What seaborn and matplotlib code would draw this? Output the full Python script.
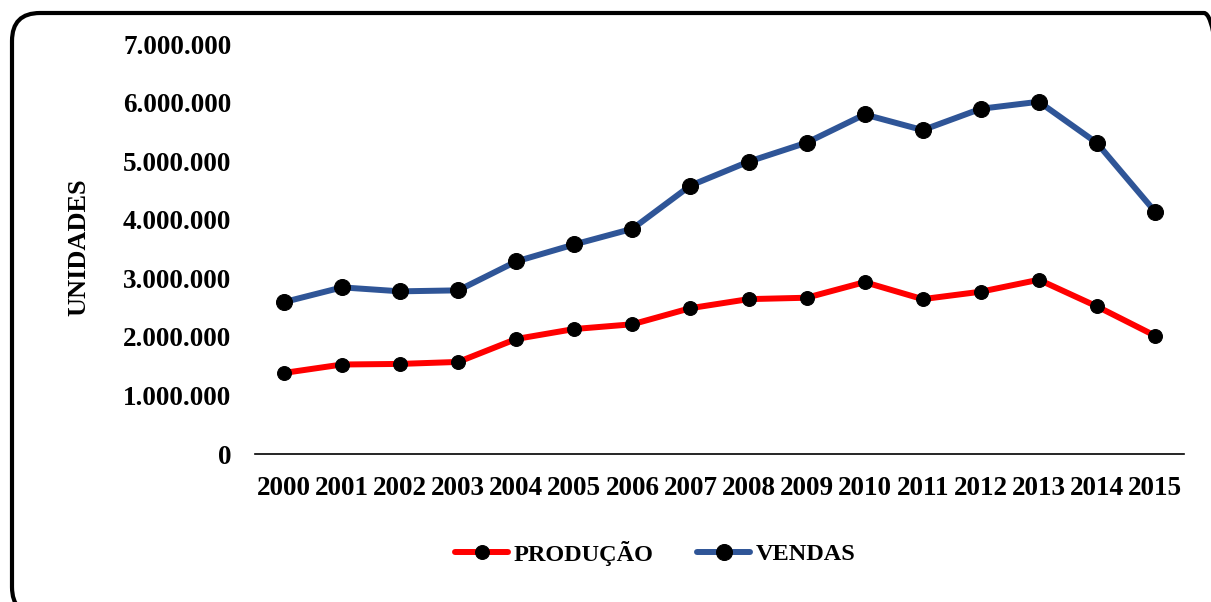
import matplotlib
matplotlib.use("Agg")
import matplotlib.pyplot as plt
import seaborn as sns
import pandas as pd
from matplotlib.patches import FancyBboxPatch
from matplotlib.ticker import FuncFormatter, MultipleLocator

years = list(range(2000, 2016))
producao = [1384000, 1528000, 1538000, 1572000, 1964000, 2134000, 2215000, 2490000,
            2644000, 2668000, 2934000, 2644000, 2771000, 2975000, 2520000, 2020000]
vendas = [2594000, 2845000, 2777000, 2794000, 3288000, 3578000, 3845000, 4583000,
          4991000, 5315000, 5797000, 5530000, 5894000, 6014000, 5310000, 4140000]
series_names = ["PRODUÇÃO", "VENDAS"]
series_colors = ["#FF0000", "#2F5597"]

sns.set_theme(style="white")
plt.rcParams['font.family'] = ['Liberation Serif', 'DejaVu Serif']
plt.rcParams['font.weight'] = 'bold'
plt.rcParams['text.color'] = 'black'
plt.rcParams['axes.labelcolor'] = 'black'
plt.rcParams['xtick.color'] = 'black'
plt.rcParams['ytick.color'] = 'black'

W, H = 1211, 602
fig = plt.figure(figsize=(W / 100, H / 100), dpi=100)
ax = fig.add_axes([255/W, 1-454/H, (1184-255)/W, (454-44)/H])

df = pd.DataFrame({
    "ano": years * 2,
    "valor": producao + vendas,
    "serie": [series_names[0]] * len(years) + [series_names[1]] * len(years),
})

msizes = [10, 11.5]
for name, col, ms in zip(series_names, series_colors, msizes):
    sns.lineplot(data=df[df["serie"] == name], x="ano", y="valor", color=col,
                 linewidth=4.3, marker="o", markersize=ms, markerfacecolor="black",
                 markeredgecolor="black", label=name, ax=ax, legend=False)

ax.set_xlim(1999.5, 2015.5)
ax.set_ylim(0, 7000000)
ax.set_xticks(years)
ax.set_xticklabels([str(y) for y in years])
ax.yaxis.set_major_locator(MultipleLocator(1000000))
ax.yaxis.set_major_formatter(FuncFormatter(lambda v, p: f"{int(v):,}".replace(",", ".")))
ax.set_xlabel("")
ax.set_ylabel("UNIDADES", fontsize=19, fontweight="bold", color="black")
ax.yaxis.set_label_coords((90-255)/929, 0.505)

for s in ["left", "top", "right"]:
    ax.spines[s].set_visible(False)
ax.spines["bottom"].set_color("black")
ax.spines["bottom"].set_linewidth(1.2)
ax.tick_params(axis="x", length=0, pad=16, labelsize=19.5, labelcolor="black")
ax.tick_params(axis="y", length=0, pad=17, labelsize=19.5, labelcolor="black")
for lbl in ax.get_xticklabels() + ax.get_yticklabels():
    lbl.set_fontweight("bold")
ax.grid(False)

handles, labels = ax.get_legend_handles_labels()
leg = fig.legend(handles, labels, loc="center", bbox_to_anchor=(655/W, 1-553/H),
                 ncol=2, frameon=False, handlelength=2.2, handletextpad=0.2,
                 columnspacing=1.8, prop={"family": "Liberation Serif", "weight": "bold", "size": 17.5})
for t in leg.get_texts():
    t.set_color("black")

r = 28
border = FancyBboxPatch((12/W, -13/H), 1220/W, 602/H,
                        boxstyle=f"round,pad=0,rounding_size={r/W}",
                        mutation_aspect=W/H,
                        transform=fig.transFigure, fill=False, edgecolor="black",
                        linewidth=3.0, clip_on=False)
fig.patches.append(border)

fig.savefig("out.png", dpi=100)
